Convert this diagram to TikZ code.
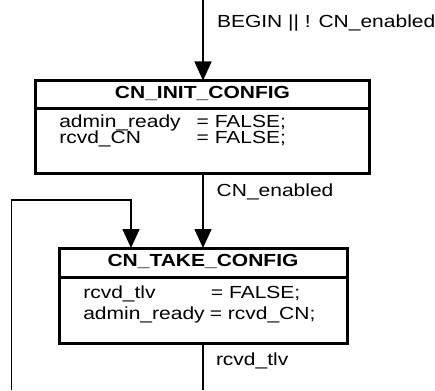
\documentclass[tikz,border=0pt]{standalone}
\usepackage{fontspec}
\setmainfont{Liberation Sans}[FakeStretch=1.2]
\usetikzlibrary{arrows.meta}

\begin{document}
\begin{tikzpicture}[x=1pt,y=1pt,
  every node/.style={inner sep=0pt, outer sep=0pt, font=\fontsize{17.5}{16}\selectfont},
  statebox/.style={draw, line width=3pt, rectangle},
  divider/.style={line width=3pt},
  conn/.style={line width=1.6pt},
  flow/.style={conn, -{Triangle[length=19pt,width=17pt]}},
  txt/.style={anchor=base west},
  title/.style={anchor=base, font=\fontsize{17.5}{16}\selectfont\bfseries}]

\useasboundingbox (0,0) rectangle (435,-390);

% state boxes
\node[statebox, minimum width=334pt, minimum height=93pt] (init) at (202.5,-127) {};
\node[statebox, minimum width=288pt, minimum height=95pt] (take) at (203.5,-295.5) {};

% title separators
\coordinate (d1) at (0,-108.3);
\coordinate (d2) at (0,-277.5);
\draw[divider] (init.west |- d1) -- (init.east |- d1);
\draw[divider] (take.west |- d2) -- (take.east |- d2);

% titles
\node[title] (initname) at (202.5,-99) {CN\_INIT\_CONFIG};
\node[title] (takename) at (203,-266) {CN\_TAKE\_CONFIG};

% actions
\node[txt] (a1) at (59.3,-127.3) {\makebox[137.4pt][l]{admin\_ready}= FALSE;};
\node[txt] (a2) at (59.3,-143.3) {\makebox[137.4pt][l]{rcvd\_CN}= FALSE;};
\node[txt] (b1) at (83.3,-298.3) {\makebox[127.7pt][l]{rcvd\_tlv}= FALSE;};
\node[txt] (b2) at (83.3,-319.3) {\makebox[126.5pt][l]{admin\_ready}= rcvd\_CN;};

% connectors
\coordinate (entry) at (203,0);
\coordinate (exit) at (203,-390);
\coordinate (loopbot) at (11.3,-390);
\coordinate (loopcorner) at (131,-200);

\draw[flow] (entry) -- (entry |- init.north);
\draw[flow] (entry |- init.south) -- (entry |- take.north);
\draw[flow] (loopbot) |- (loopcorner) -- (loopcorner |- take.north);
\draw[conn] (entry |- take.south) -- (exit);

% transition conditions
\node[txt] (c1) at (217,-27.3) {BEGIN || ! CN\_enabled};
\node[txt] (c2) at (216.7,-196) {CN\_enabled};
\node[txt] (c3) at (216,-365) {rcvd\_tlv};
\end{tikzpicture}
\end{document}
